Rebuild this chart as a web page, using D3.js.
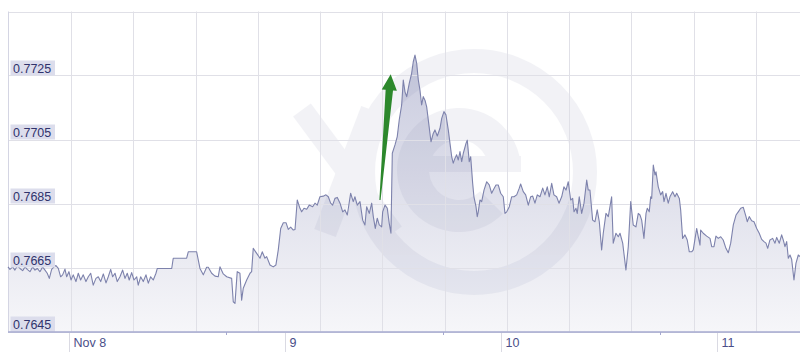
<!DOCTYPE html>
<html>
<head>
<meta charset="utf-8">
<script src="https://cdn.jsdelivr.net/npm/d3@7"></script>
<style>
  html, body { margin: 0; padding: 0; background: #ffffff; }
  svg { display: block; }
  text { font-family: "Liberation Sans", Arial, sans-serif; }
</style>
</head>
<body>
<svg id="chart" width="800" height="360"></svg>
<script>
// ---- data (hours since Nov 8 00:00, rate) ----
const hours = [
-6.83,-6.61,-6.31,-6.06,-5.80,-5.50,-5.20,-4.94,-4.69,-4.39,-4.09,-3.83,-3.58,-3.28,-2.98,-2.72,-2.47,-2.24,-1.98,-1.72,
-1.50,-1.24,-0.98,-0.76,-0.50,-0.31,-0.06,0.17,0.42,0.72,0.98,1.24,1.53,1.83,2.09,2.36,2.64,2.94,3.20,3.47,
3.76,4.06,4.31,4.58,4.80,5.06,5.31,5.61,5.91,6.17,6.42,6.64,6.91,7.17,7.47,7.64,7.91,8.20,8.50,8.76,
9.02,9.31,9.61,9.76,11.36,11.53,13.02,13.20,14.13,
14.50,14.87,15.24,15.42,15.80,16.17,16.53,16.72,17.09,17.47,18.02,18.20,18.39,18.64,18.94,19.13,19.31,19.69,20.06,20.24,
20.42,20.80,21.17,21.42,21.72,21.91,22.28,22.64,22.94,23.20,23.47,23.76,24.06,24.31,24.58,24.87,25.06,25.31,25.61,25.80,
26.06,26.36,26.64,27.02,27.28,27.53,27.83,28.20,28.50,28.76,29.02,29.24,29.50,29.76,30.06,30.36,30.61,30.87,31.24,31.53,
31.72,31.98,32.28,32.58,32.83,33.02,33.31,33.58,33.76,33.98,34.20,34.42,34.69,34.80,35.06,35.31,35.53,35.72,
35.87,36.17,36.42,36.64,36.91,37.09,37.28,37.47,37.76,38.02,38.20,38.39,38.58,38.76,38.94,39.13,39.31,39.50,39.69,39.94,
40.17,40.42,40.61,40.87,41.17,41.36,41.61,41.83,42.09,42.28,42.47,42.64,42.83,43.02,43.20,43.39,43.58,43.76,44.06,44.20,
44.42,44.58,44.80,44.94,45.17,45.31,45.42,45.61,45.80,46.06,46.36,46.64,46.91,47.09,47.39,47.64,47.91,48.20,48.39,48.58,
48.87,49.13,49.39,49.69,49.98,
50.13,50.42,50.69,50.98,51.24,51.47,51.72,51.98,52.28,52.58,52.83,53.09,53.31,53.58,53.83,54.13,54.39,54.69,54.94,55.17,
55.42,55.69,55.91,56.06,56.28,56.42,56.64,56.91,57.17,57.47,57.64,57.83,58.13,58.39,58.64,58.87,59.13,59.31,59.61,59.87,
60.24,60.42,60.72,60.98,
61.17,61.47,61.83,62.09,62.36,62.64,62.94,63.20,63.39,63.58,63.83,64.06,64.20,64.42,64.58,64.69,64.87,65.06,65.17,65.42,
65.69,65.91,66.06,66.28,66.53,66.72,67.02,67.28,67.47,67.76,67.91,68.13,68.39,68.64,68.87,69.13,69.31,69.69,69.87,70.06,
70.13,70.42,70.80,71.17,71.36,71.61,71.83,72.09,72.36,72.64,72.94,73.20,73.47,73.76,74.06,74.31,74.58,74.87,75.17,75.31,
75.53,75.80,76.06,76.36,76.64,76.91,77.17,77.39,77.58,77.83,78.13,78.39,78.58,78.87,79.13,79.31,79.50,79.69,79.87,80.06,
80.24,80.50,80.72,80.98,81.17
];
const rates = [
0.76652,0.76644,0.76652,0.76642,0.76655,0.76647,0.76640,0.76652,0.76644,0.76637,0.76652,0.76642,0.76647,0.76637,0.76652,0.76642,0.76632,0.76616,0.76644,0.76652,
0.76656,0.76647,0.76621,0.76627,0.76645,0.76621,0.76637,0.76611,0.76627,0.76606,0.76632,0.76611,0.76627,0.76606,0.76621,0.76632,0.76595,0.76616,0.76621,0.76606,
0.76630,0.76602,0.76621,0.76644,0.76621,0.76632,0.76606,0.76621,0.76642,0.76616,0.76632,0.76611,0.76634,0.76611,0.76621,0.76595,0.76621,0.76606,0.76627,0.76601,
0.76621,0.76611,0.76632,0.76647,0.76647,0.76679,0.76679,0.76699,0.76699,
0.76647,0.76627,0.76651,0.76651,0.76632,0.76623,0.76621,0.76652,0.76630,0.76621,0.76616,0.76543,0.76538,0.76637,0.76632,0.76548,0.76585,0.76611,0.76632,0.76637,
0.76710,0.76694,0.76679,0.76699,0.76679,0.76684,0.76658,0.76652,0.76658,0.76705,0.76772,0.76790,0.76790,0.76769,0.76776,0.76767,0.76769,0.76861,0.76835,0.76824,
0.76835,0.76832,0.76845,0.76840,0.76851,0.76845,0.76871,0.76873,0.76877,0.76871,0.76851,0.76845,0.76866,0.76869,0.76851,0.76824,0.76830,0.76814,0.76882,0.76856,
0.76871,0.76845,0.76856,0.76798,0.76783,0.76840,0.76819,0.76851,0.76809,0.76772,0.76804,0.76783,0.76777,0.76824,0.76845,0.76835,0.76788,0.76757,
0.77007,0.77033,0.77059,0.77111,0.77158,0.77236,0.77199,0.77184,0.77226,0.77257,0.77293,0.77314,0.77288,0.77236,0.77205,0.77158,0.77184,0.77173,0.77152,0.77095,
0.77043,0.77069,0.77080,0.77061,0.77085,0.77116,0.77137,0.77127,0.77080,0.77038,0.76996,0.76976,0.76991,0.77002,0.76986,0.77012,0.76981,0.77007,0.77038,0.77048,
0.76981,0.76996,0.76913,0.76871,0.76840,0.76809,0.76824,0.76861,0.76856,0.76892,0.76918,0.76908,0.76882,0.76892,0.76908,0.76908,0.76882,0.76871,0.76819,0.76824,
0.76840,0.76871,0.76871,0.76877,0.76898,
0.76911,0.76887,0.76877,0.76845,0.76871,0.76873,0.76851,0.76877,0.76871,0.76898,0.76877,0.76902,0.76871,0.76913,0.76877,0.76871,0.76851,0.76871,0.76902,0.76892,
0.76918,0.76861,0.76866,0.76824,0.76835,0.76819,0.76871,0.76819,0.76851,0.76923,0.76892,0.76892,0.76798,0.76793,0.76830,0.76793,0.76705,0.76757,0.76819,0.76809,
0.76871,0.76726,0.76757,0.76746,
0.76757,0.76726,0.76642,0.76715,0.76856,0.76783,0.76777,0.76819,0.76814,0.76798,0.76741,0.76819,0.76835,0.76824,0.76871,0.76866,0.76970,0.76939,0.76949,0.76902,
0.76877,0.76887,0.76856,0.76882,0.76851,0.76871,0.76887,0.76871,0.76882,0.76866,0.76830,0.76741,0.76752,0.76736,0.76699,0.76699,0.76705,0.76772,0.76746,0.76720,
0.76767,0.76757,0.76748,0.76741,0.76715,0.76715,0.76748,0.76741,0.76746,0.76736,0.76710,0.76696,0.76726,0.76783,0.76814,0.76824,0.76835,0.76838,0.76809,0.76793,
0.76809,0.76796,0.76793,0.76772,0.76757,0.76738,0.76731,0.76726,0.76710,0.76736,0.76741,0.76726,0.76744,0.76726,0.76752,0.76736,0.76715,0.76731,0.76679,0.76689,
0.76676,0.76611,0.76663,0.76689,0.76684
];
const yTickValues = [0.7645, 0.7665, 0.7685, 0.7705, 0.7725];
const yTickLabels = ["0.7645", "0.7665", "0.7685", "0.7705", "0.7725"];
const dayHours = [0, 24, 48, 72];
const dayLabels = ["Nov 8", "9", "10", "11"];
const minorTickHours = [17.4, 41.5, 65.6];
const arrowFrom = [34.5, 0.76861];
const arrowTo = [35.69, 0.77254];

// ---- layout ----
const plotL = 8, plotR = 800, plotT = 11.5, plotB = 331.5;
const svg = d3.select("#chart");

const x = d3.scaleLinear().domain([-6.83, 81.17]).range([plotL, plotR]);
const y = d3.scaleLinear().domain([0.7645, 0.7745]).range([plotB, plotT]);

const data = hours.map((h, i) => ({ h, r: rates[i] }));

// gradient
const defs = svg.append("defs");
const grad = defs.append("linearGradient").attr("id", "areaGrad")
  .attr("gradientUnits", "userSpaceOnUse")
  .attr("x1", 0).attr("x2", 0).attr("y1", y(0.7735)).attr("y2", plotB);
grad.append("stop").attr("offset", 0).attr("stop-color", "#c7c9dd");
grad.append("stop").attr("offset", 1).attr("stop-color", "#f6f6f9");

// area
svg.append("path").datum(data)
  .attr("fill", "url(#areaGrad)")
  .attr("d", d3.area().x(d => x(d.h)).y0(plotB).y1(d => y(d.r)));

// watermark (xe logo)
const wm = svg.append("g").attr("opacity", 0.095);
const wmColor = "#7a7fa6";
wm.append("circle").attr("cx", 474).attr("cy", 172).attr("r", 111)
  .attr("fill", "none").attr("stroke", wmColor).attr("stroke-width", 24);
wm.append("path")
  .attr("transform", "translate(459,170)")
  .attr("fill", wmColor)
  .attr("d", d3.arc().innerRadius(30).outerRadius(62)
    .startAngle(135 * Math.PI / 180).endAngle(450 * Math.PI / 180)());
wm.append("rect").attr("x", 459 - 32).attr("y", 156).attr("width", 32 + 62).attr("height", 16)
  .attr("fill", wmColor);
wm.append("line").attr("x1", 302).attr("y1", 110).attr("x2", 393).attr("y2", 233)
  .attr("stroke", wmColor).attr("stroke-width", 22);
wm.append("line").attr("x1", 372).attr("y1", 110).attr("x2", 325).attr("y2", 233)
  .attr("stroke", wmColor).attr("stroke-width", 23);

// gridlines
const grid = svg.append("g").attr("stroke", "#e0e0e7").attr("stroke-width", 1);
const hGrid = yTickValues.concat([0.7745]);
grid.selectAll("line.h").data(hGrid).enter().append("line")
  .attr("x1", plotL).attr("x2", plotR)
  .attr("y1", d => Math.round(y(d)) + 0.5).attr("y2", d => Math.round(y(d)) + 0.5);
const gridHours = d3.range(12).map(i => 0.17 + i * 6.919);
grid.selectAll("line.v").data(gridHours).enter().append("line")
  .attr("x1", d => Math.round(x(d)) + 0.5).attr("x2", d => Math.round(x(d)) + 0.5)
  .attr("y1", plotT).attr("y2", plotB);
// left border
svg.append("line").attr("x1", plotL + 0.5).attr("x2", plotL + 0.5).attr("y1", plotT).attr("y2", plotB)
  .attr("stroke", "#d4d5e3").attr("stroke-width", 1);

// series line
svg.append("path").datum(data)
  .attr("fill", "none").attr("stroke", "#7d82ac").attr("stroke-width", 1.1)
  .attr("stroke-linejoin", "round")
  .attr("d", d3.line().x(d => x(d.h)).y(d => y(d.r)));

// y labels with boxes
const yl = svg.append("g");
yTickValues.forEach((v, i) => {
  const gy = y(v);
  yl.append("rect").attr("x", 10.5).attr("y", gy - 15).attr("width", 44.5).attr("height", 15)
    .attr("fill", "#dcddec");
  yl.append("text").attr("x", 13).attr("y", gy - 3)
    .attr("font-size", 12.5).attr("fill", "#30336c").text(yTickLabels[i]);
});

// bottom axis
svg.append("line").attr("x1", plotL).attr("x2", plotR).attr("y1", 332).attr("y2", 332)
  .attr("stroke", "#a5a8cf").attr("stroke-width", 1.3);
const xa = svg.append("g");
dayHours.forEach((h, i) => {
  const px = Math.round(x(h)) + 0.5;
  xa.append("line").attr("x1", px).attr("x2", px).attr("y1", 333).attr("y2", 352)
    .attr("stroke", "#dadae3").attr("stroke-width", 1);
  xa.append("text").attr("x", px + 4).attr("y", 346.5)
    .attr("font-size", 12.5).attr("fill", "#4a4e88").text(dayLabels[i]);
});
minorTickHours.forEach(h => {
  const px = Math.round(x(h)) + 0.5;
  xa.append("line").attr("x1", px).attr("x2", px).attr("y1", 332).attr("y2", 335)
    .attr("stroke", "#a5a8cf").attr("stroke-width", 1);
});

// arrow annotation
(function () {
  const B = [x(arrowFrom[0]), y(arrowFrom[1])];
  const T = [x(arrowTo[0]), y(arrowTo[1])];
  const dx = T[0] - B[0], dy = T[1] - B[1];
  const L = Math.hypot(dx, dy);
  const u = [dx / L, dy / L];
  const n = [-u[1], u[0]];
  const headLen = 16, headHalf = 7.6, shaftTop = 3.7, shaftBottom = 0.6;
  const Hb = [T[0] - u[0] * headLen, T[1] - u[1] * headLen];
  const p = (P, s) => [P[0] + n[0] * s, P[1] + n[1] * s];
  const pts = [p(B, -shaftBottom), p(Hb, -shaftTop), p(Hb, -headHalf), T,
               p(Hb, headHalf), p(Hb, shaftTop), p(B, shaftBottom)];
  svg.append("polygon").attr("points", pts.map(q => q.join(",")).join(" "))
    .attr("fill", "#2c882c");
})();
</script>
</body>
</html>
